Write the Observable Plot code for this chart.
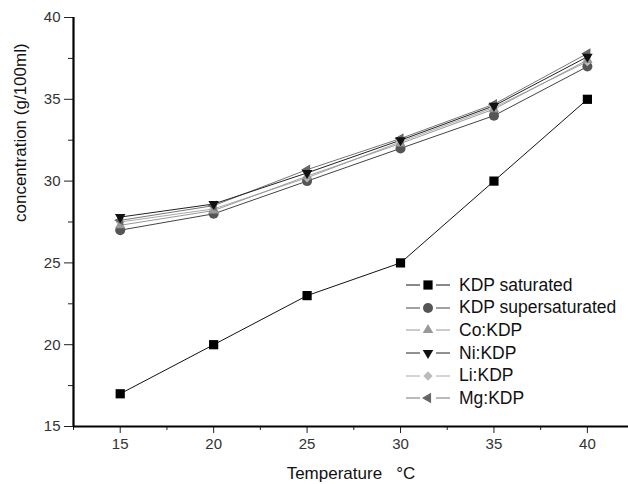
<!DOCTYPE html>
<html><head><meta charset="utf-8">
<script src="https://cdn.jsdelivr.net/npm/d3@7"></script>
<script src="https://cdn.jsdelivr.net/npm/@observablehq/plot@0.6"></script>
<style>
body{margin:0;background:#fff;font-family:"Liberation Sans",Arial,sans-serif;}
#wrap{position:relative;width:628px;height:484px;}
#legend{position:absolute;left:404px;top:274px;}
.row{display:flex;align-items:center;height:22.6px;font-size:17.5px;color:#111;}
.row svg{margin-right:7px;}
</style></head>
<body><div id="wrap"><div id="legend"></div></div>
<script>
const temps = [15, 20, 25, 30, 35, 40];
const seriesNames = ["KDP saturated","KDP supersaturated","Co:KDP","Ni:KDP","Li:KDP","Mg:KDP"];
const saturated      = [17.0, 20.0, 23.0, 25.0, 30.0, 35.0];
const supersaturated = [27.0, 28.0, 30.0, 32.0, 34.0, 37.0];
const coKDP          = [27.3, 28.2, 30.3, 32.3, 34.4, 37.4];
const niKDP          = [27.8, 28.6, 30.5, 32.5, 34.6, 37.6];
const liKDP          = [27.5, 28.3, 30.2, 32.4, 34.5, 37.3];
const mgKDP          = [27.6, 28.5, 30.7, 32.6, 34.7, 37.8];
const xTicks = [15, 20, 25, 30, 35, 40];
const xMinor = [12.5, 17.5, 22.5, 27.5, 32.5, 37.5];
const yTicks = [15, 20, 25, 30, 35, 40];
const yMinor = [17.5, 22.5, 27.5, 32.5, 37.5];

const styles = [
  {symbol:"square", fill:"#000", stroke:"#111", rotate:0, r:5.2},
  {symbol:"circle", fill:"#555", stroke:"#444", rotate:0, r:5},
  {symbol:"triangle", fill:"#999", stroke:"#999", rotate:0, r:3.9},
  {symbol:"triangle", fill:"#111", stroke:"#222", rotate:180, r:3.9},
  {symbol:"diamond2", fill:"#bbb", stroke:"#aaa", rotate:0, r:4.2},
  {symbol:"triangle", fill:"#666", stroke:"#777", rotate:-90, r:3.9}
];
const values = [saturated, supersaturated, coKDP, niKDP, liKDP, mgKDP];
const data = values.map((vals, i) => temps.map((t, j) => ({series: seriesNames[i], t, c: vals[j]})));

const marks = [];
const order = [0,1,4,2,5,3];
for (const i of order) {
  const s = styles[i];
  marks.push(Plot.line(data[i], {x:"t", y:"c", stroke:s.stroke, strokeWidth:1}));
}
for (const i of order) {
  const s = styles[i];
  marks.push(Plot.dot(data[i], {x:"t", y:"c", symbol:()=>s.symbol, fill:s.fill, stroke:"none", r:s.r, rotate:s.rotate}));
}

const chart = Plot.plot({
  width: 628, height: 484,
  marginLeft: 73, marginRight: 0, marginTop: 17, marginBottom: 58,
  style: {fontFamily: '"Liberation Sans", Arial, sans-serif', background: "#fff", color:"#222", fontSize:"15px"},
  x: {domain:[12.5, 42.2]},
  y: {domain:[15, 40]},
  symbol: {type:"identity"},
  marks: [
    Plot.axisX(xTicks, {tickSize:7, tickPadding:5, fontSize:15, fill:"#333", label:null}),
    Plot.axisX(xMinor, {tickSize:4, text:null, label:null}),
    Plot.axisY(yTicks, {tickSize:9, tickPadding:4, fontSize:15, fill:"#333", label:null}),
    Plot.axisY(yMinor, {tickSize:5, text:null, label:null}),
    Plot.ruleY([15], {strokeWidth:2.2, stroke:"#000"}),
    Plot.ruleX([12.5], {y1:15, y2:40, strokeWidth:2.2, stroke:"#000"}),
    ...marks,
    Plot.text(["concentration (g/100ml)"], {frameAnchor:"left", dx:-53, rotate:-90, fontSize:17, fill:"#111"}),
    Plot.text(["Temperature   \u00B0C"], {frameAnchor:"bottom", dy:52, fontSize:17, fill:"#111"})
  ]
});
document.getElementById("wrap").prepend(chart);

const legend = document.getElementById("legend");
const ns = "http://www.w3.org/2000/svg";
const symMap = {square:d3.symbolSquare, circle:d3.symbolCircle, triangle:d3.symbolTriangle, diamond2:d3.symbolDiamond2};
seriesNames.forEach((name, i) => {
  const s = styles[i];
  const row = document.createElement("div");
  row.className = "row";
  const svg = document.createElementNS(ns, "svg");
  svg.setAttribute("width", 48); svg.setAttribute("height", 20);
  for (const [a, b] of [[2, 16], [32, 46]]) {
    const line = document.createElementNS(ns, "line");
    line.setAttribute("x1", a); line.setAttribute("x2", b); line.setAttribute("y1", 10); line.setAttribute("y2", 10);
    line.setAttribute("stroke", s.stroke); line.setAttribute("stroke-width", 1);
    svg.appendChild(line);
  }
  const p = document.createElementNS(ns, "path");
  p.setAttribute("d", d3.symbol(symMap[s.symbol], Math.PI*s.r*s.r)());
  p.setAttribute("transform", `translate(24,10) rotate(${s.rotate})`);
  p.setAttribute("fill", s.fill);
  svg.appendChild(p);
  row.appendChild(svg);
  const t = document.createElement("span"); t.textContent = name;
  row.appendChild(t);
  legend.appendChild(row);
});
</script></body></html>
